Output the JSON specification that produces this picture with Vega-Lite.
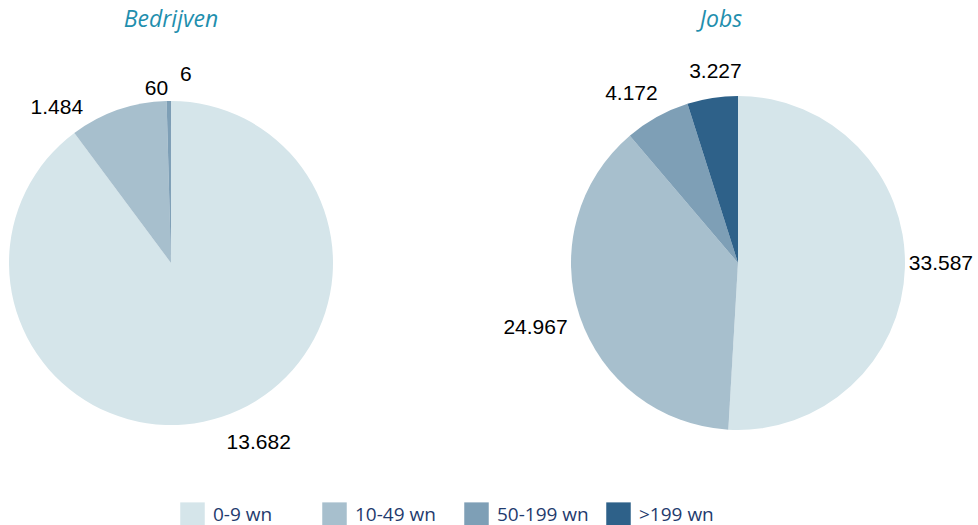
{
  "$schema": "https://vega.github.io/schema/vega-lite/v6.json",
  "padding": {"top": 9, "left": 0, "right": 0, "bottom": 0},
  "background": "white",
  "config": {
    "view": {"stroke": null},
    "locale": {"number": {"decimal": ",", "thousands": ".", "grouping": [3], "currency": ["€", ""]}},
    "title": {"font": "Open Sans", "fontSize": 23, "fontStyle": "italic", "fontWeight": "normal", "color": "#1f8fae", "offset": 6},
    "text": {"font": "Liberation Sans", "fontSize": 21, "fill": "black"},
    "legend": {"orient": "none", "legendX": 180, "legendY": 464, "direction": "horizontal", "columns": 4, "gridAlign": "all", "symbolType": "square", "symbolSize": 600, "symbolStrokeWidth": 0, "symbolOpacity": 1, "labelFont": "Open Sans", "labelFontSize": 19, "labelColor": "#1f3b6e", "labelOffset": 8, "columnPadding": 17, "title": null}
  },
  "spacing": 156,
  "hconcat": [
    {
      "title": {"text": "Bedrijven"},
      "width": 342,
      "height": 450,
      "data": {"values": [
        {"size": "0-9 wn", "value": 13682},
        {"size": "10-49 wn", "value": 1484},
        {"size": "50-199 wn", "value": 60},
        {"size": ">199 wn", "value": 6}
      ]},
      "encoding": {
        "theta": {"field": "value", "type": "quantitative", "stack": true},
        "detail": {"field": "size", "type": "nominal"},
        "order": {"field": "size", "sort": "ascending"}
      },
      "layer": [
        {
          "mark": {"type": "arc", "outerRadius": 162},
          "encoding": {
            "color": {"field": "size", "type": "nominal", "scale": {"domain": ["0-9 wn", "10-49 wn", "50-199 wn", ">199 wn"], "range": ["#d5e5ea", "#a7bfcd", "#7e9fb6", "#2e6189"]}, "legend": {"title": null}}
          }
        },
        {
          "mark": {"type": "text", "radius": 190, "dx": 28},
          "encoding": {"text": {"condition": {"test": "datum.size == '0-9 wn'", "field": "value", "type": "quantitative", "format": ","}, "value": ""}}
        },
        {
          "mark": {"type": "text", "radius": 196, "dx": -50, "dy": 30},
          "encoding": {"text": {"condition": {"test": "datum.size == '10-49 wn'", "field": "value", "type": "quantitative", "format": ","}, "value": ""}}
        },
        {
          "mark": {"type": "text", "radius": 174, "dx": -12},
          "encoding": {"text": {"condition": {"test": "datum.size == '50-199 wn'", "field": "value", "type": "quantitative", "format": ","}, "value": ""}}
        },
        {
          "mark": {"type": "text", "radius": 188, "dx": 15},
          "encoding": {"text": {"condition": {"test": "datum.size == '>199 wn'", "field": "value", "type": "quantitative", "format": ","}, "value": ""}}
        }
      ]
    },
    {
      "title": {"text": "Jobs", "dx": -17},
      "width": 480,
      "height": 450,
      "data": {"values": [
        {"size": "0-9 wn", "value": 33587},
        {"size": "10-49 wn", "value": 24967},
        {"size": "50-199 wn", "value": 4172},
        {"size": ">199 wn", "value": 3227}
      ]},
      "encoding": {
        "theta": {"field": "value", "type": "quantitative", "stack": true},
        "detail": {"field": "size", "type": "nominal"},
        "order": {"field": "size", "sort": "ascending"}
      },
      "layer": [
        {
          "mark": {"type": "arc", "outerRadius": 167},
          "encoding": {
            "color": {"field": "size", "type": "nominal", "scale": {"domain": ["0-9 wn", "10-49 wn", "50-199 wn", ">199 wn"], "range": ["#d5e5ea", "#a7bfcd", "#7e9fb6", "#2e6189"]}, "legend": {"title": null}}
          }
        },
        {
          "mark": {"type": "text", "radius": 203, "dy": -5},
          "encoding": {"text": {"condition": {"test": "datum.size == '0-9 wn'", "field": "value", "type": "quantitative", "format": ","}, "value": ""}}
        },
        {
          "mark": {"type": "text", "radius": 203, "dx": -10},
          "encoding": {"text": {"condition": {"test": "datum.size == '10-49 wn'", "field": "value", "type": "quantitative", "format": ","}, "value": ""}}
        },
        {
          "mark": {"type": "text", "radius": 193, "dx": -13},
          "encoding": {"text": {"condition": {"test": "datum.size == '50-199 wn'", "field": "value", "type": "quantitative", "format": ","}, "value": ""}}
        },
        {
          "mark": {"type": "text", "radius": 193, "dx": 7},
          "encoding": {"text": {"condition": {"test": "datum.size == '>199 wn'", "field": "value", "type": "quantitative", "format": ","}, "value": ""}}
        }
      ]
    }
  ]
}
